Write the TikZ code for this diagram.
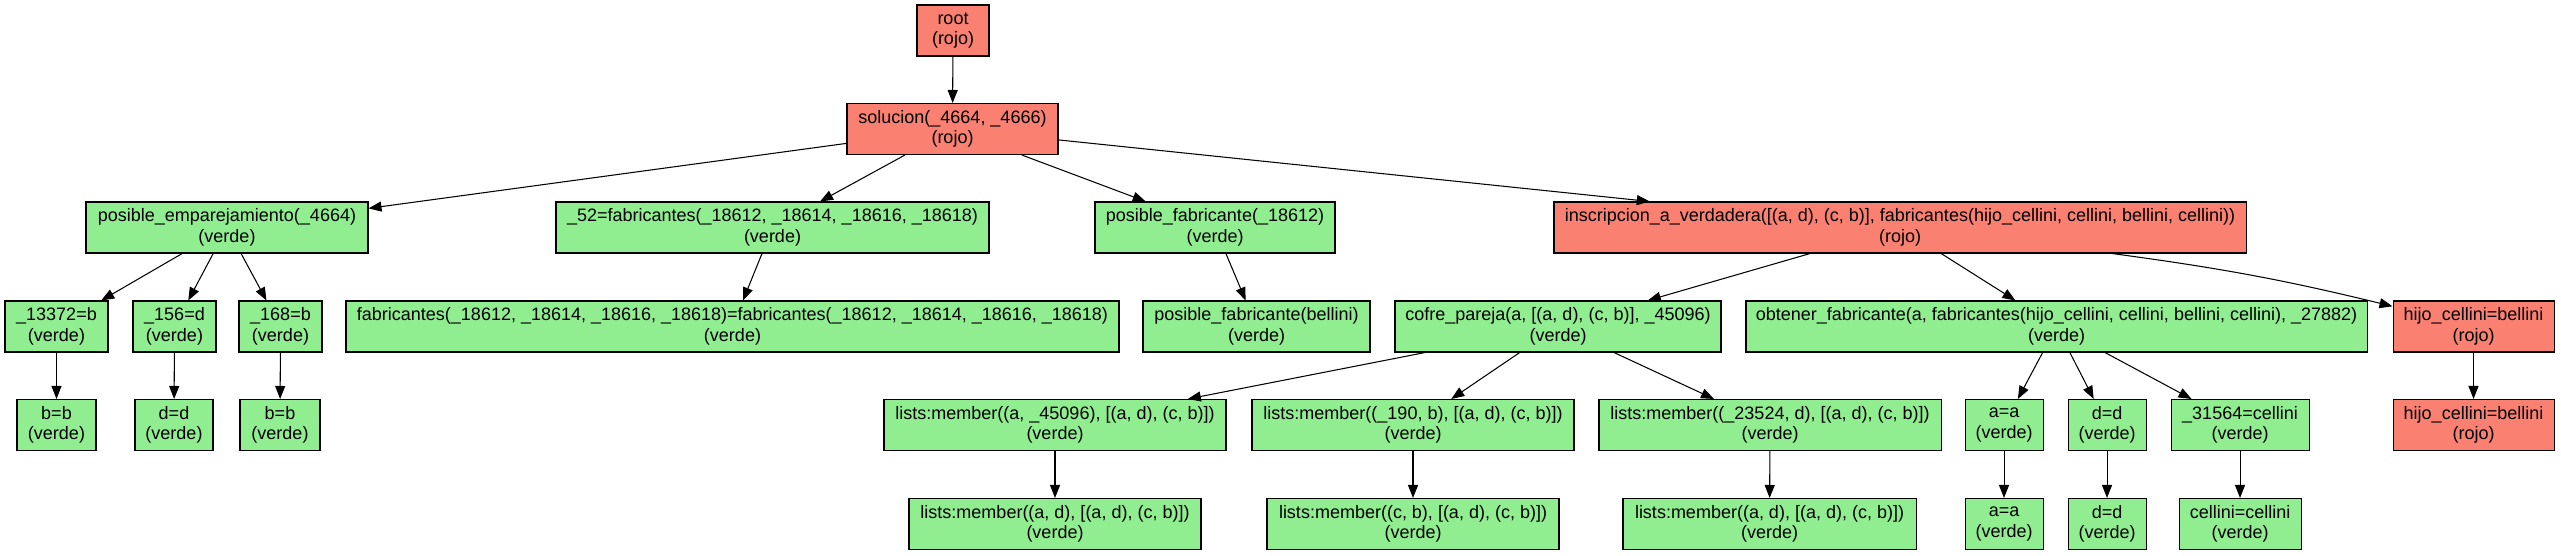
\documentclass[tikz,border=0pt]{standalone}
\usepackage{fontspec}
\setmainfont{Liberation Sans}
\usetikzlibrary{arrows.meta}
\definecolor{salmon}{HTML}{FA8072}
\definecolor{lightgreen}{HTML}{90EE90}
\begin{document}
\begin{tikzpicture}[x=1pt,y=-1pt,
  box/.style={draw=black, line width=1.05pt, minimum height=51pt, inner sep=0pt, align=center, font=\fontsize{18}{20.5}\selectfont},
  rojo/.style={box, fill=salmon},
  verde/.style={box, fill=lightgreen},
  edge/.style={draw=black, line width=1.05pt, -{Triangle[length=13pt,width=10pt]}}]
\useasboundingbox (0,0) rectangle (2561,555);
% row 0
\node[rojo, minimum width=72pt] (root) at (953,30.5) {root\\(rojo)};
% row 1
\node[rojo, minimum width=211pt] (sol) at (952.5,129) {solucion(\_4664, \_4666)\\(rojo)};
% row 2
\node[verde, minimum width=282pt] (pe) at (227,227.5) {posible\_emparejamiento(\_4664)\\(verde)};
\node[verde, minimum width=433pt] (f52) at (772.5,227.5) {\_52=fabricantes(\_18612, \_18614, \_18616, \_18618)\\(verde)};
\node[verde, minimum width=240pt] (pf) at (1215,227.5) {posible\_fabricante(\_18612)\\(verde)};
\node[rojo, minimum width=692pt] (insc) at (1900,227.5) {inscripcion\_a\_verdadera([(a, d), (c, b)], fabricantes(hijo\_cellini, cellini, bellini, cellini))\\(rojo)};
% row 3
\node[verde, minimum width=103pt] (n13372) at (56.5,326.5) {\_13372=b\\(verde)};
\node[verde, minimum width=83pt] (n156) at (174.5,326.5) {\_156=d\\(verde)};
\node[verde, minimum width=83pt] (n168) at (280.5,326.5) {\_168=b\\(verde)};
\node[verde, minimum width=773pt] (fab) at (732.5,326.5) {fabricantes(\_18612, \_18614, \_18616, \_18618)=fabricantes(\_18612, \_18614, \_18616, \_18618)\\(verde)};
\node[verde, minimum width=227pt] (pfb) at (1256.5,326.5) {posible\_fabricante(bellini)\\(verde)};
\node[verde, minimum width=326pt] (cofre) at (1558,326.5) {cofre\_pareja(a, [(a, d), (c, b)], \_45096)\\(verde)};
\node[verde, minimum width=621pt] (obt) at (2056.5,326.5) {obtener\_fabricante(a, fabricantes(hijo\_cellini, cellini, bellini, cellini), \_27882)\\(verde)};
\node[rojo, minimum width=161pt] (hijo1) at (2473.5,326.5) {hijo\_cellini=bellini\\(rojo)};
% row 4
\node[verde, minimum width=79pt] (bb1) at (56.5,425) {b=b\\(verde)};
\node[verde, minimum width=78pt] (dd1) at (174,425) {d=d\\(verde)};
\node[verde, minimum width=80pt] (bb2) at (280,425) {b=b\\(verde)};
\node[verde, minimum width=342pt] (lm1) at (1055,425) {lists:member((a, \_45096), [(a, d), (c, b)])\\(verde)};
\node[verde, minimum width=322pt] (lm2) at (1413,425) {lists:member((\_190, b), [(a, d), (c, b)])\\(verde)};
\node[verde, minimum width=342pt] (lm3) at (1770,425) {lists:member((\_23524, d), [(a, d), (c, b)])\\(verde)};
\node[verde, minimum width=78pt] (aa1) at (2004,425) {a=a\\(verde)};
\node[verde, minimum width=78pt] (dd2) at (2107,425) {d=d\\(verde)};
\node[verde, minimum width=138pt] (c31564) at (2240,425) {\_31564=cellini\\(verde)};
\node[rojo, minimum width=161pt] (hijo2) at (2473.5,425) {hijo\_cellini=bellini\\(rojo)};
% row 5
\node[verde, minimum width=292pt] (lm1b) at (1055,524) {lists:member((a, d), [(a, d), (c, b)])\\(verde)};
\node[verde, minimum width=292pt] (lm2b) at (1413,524) {lists:member((c, b), [(a, d), (c, b)])\\(verde)};
\node[verde, minimum width=293pt] (lm3b) at (1769.5,524) {lists:member((a, d), [(a, d), (c, b)])\\(verde)};
\node[verde, minimum width=78pt] (aa2) at (2004,524) {a=a\\(verde)};
\node[verde, minimum width=78pt] (dd3) at (2107,524) {d=d\\(verde)};
\node[verde, minimum width=122pt] (cc) at (2240,524) {cellini=cellini\\(verde)};
% edges
\draw[edge] (root) -- (sol);
\draw[edge] (sol) -- (pe);
\draw[edge] (sol) -- (f52);
\draw[edge] (sol) -- (pf);
\draw[edge] (sol) -- (insc);
\draw[edge] (pe) -- (n13372);
\draw[edge] (pe) -- (n156);
\draw[edge] (pe) -- (n168);
\draw[edge] (f52) -- (fab);
\draw[edge] (pf) -- (pfb);
\draw[edge] (insc) -- (cofre);
\draw[edge] (insc) -- (obt);
\draw[edge] (insc.-7.5) to[bend left=3] (hijo1.166);
\draw[edge] (n13372) -- (bb1);
\draw[edge] (n156) -- (dd1);
\draw[edge] (n168) -- (bb2);
\draw[edge] (cofre) -- (lm1);
\draw[edge] (cofre) -- (lm2);
\draw[edge] (cofre) -- (lm3);
\draw[edge] (obt) -- (aa1);
\draw[edge] (obt) -- (dd2);
\draw[edge] (obt) -- (c31564);
\draw[edge] (hijo1) -- (hijo2);
\draw[edge] (lm1) -- (lm1b);
\draw[edge] (lm2) -- (lm2b);
\draw[edge] (lm3) -- (lm3b);
\draw[edge] (aa1) -- (aa2);
\draw[edge] (dd2) -- (dd3);
\draw[edge] (c31564) -- (cc);
\end{tikzpicture}
\end{document}
